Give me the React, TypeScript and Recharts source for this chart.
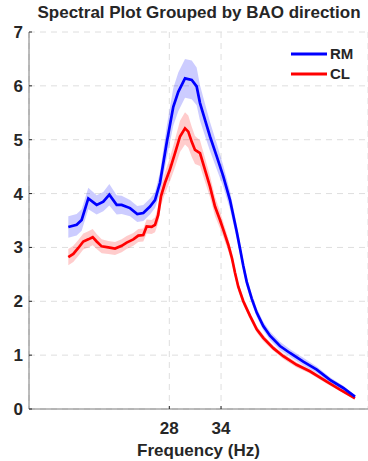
import React from 'react';
import { ComposedChart, Line, Area, XAxis, YAxis, CartesianGrid } from 'recharts';

const rmFreq = [16.28, 17.25, 17.83, 18.6, 19.57, 20.34, 21.04, 21.89, 22.47, 23.44, 24.28, 24.98, 25.76, 26.34, 26.92, 27.7, 28.46, 29.04, 29.82, 30.6, 31.17, 31.56, 32.14, 32.72, 33.5, 34.26, 35.04, 35.81, 36.2, 36.58, 36.98, 37.56, 38.14, 38.9, 39.68, 40.84, 42.0, 43.54, 45.1, 46.64, 48.18, 49.54];
const rmMean = [3.38, 3.42, 3.51, 3.91, 3.79, 3.85, 3.98, 3.79, 3.79, 3.73, 3.62, 3.64, 3.76, 3.88, 4.2, 4.95, 5.61, 5.89, 6.14, 6.11, 5.99, 5.68, 5.37, 5.06, 4.69, 4.32, 3.88, 3.3, 2.98, 2.66, 2.36, 2.05, 1.79, 1.54, 1.36, 1.17, 1.04, 0.88, 0.73, 0.54, 0.39, 0.23];
const rmErr = [0.2, 0.2, 0.2, 0.2, 0.18, 0.18, 0.2, 0.18, 0.17, 0.15, 0.15, 0.15, 0.15, 0.15, 0.2, 0.3, 0.35, 0.36, 0.36, 0.36, 0.35, 0.33, 0.3, 0.27, 0.24, 0.2, 0.17, 0.13, 0.12, 0.1, 0.09, 0.08, 0.08, 0.08, 0.08, 0.08, 0.07, 0.07, 0.06, 0.05, 0.04, 0.02];

const clFreq = [16.28, 16.86, 17.44, 18.02, 18.6, 19.11, 19.57, 20.15, 20.92, 21.7, 22.47, 23.05, 23.82, 24.4, 24.98, 25.37, 25.95, 26.34, 26.7, 27.03, 27.5, 28.08, 28.66, 29.24, 29.82, 30.2, 30.6, 30.98, 31.56, 32.14, 32.72, 33.3, 33.88, 34.26, 34.84, 35.27, 35.62, 36.0, 36.58, 37.36, 38.14, 38.9, 40.06, 41.22, 42.77, 44.31, 46.26, 47.8, 49.54];
const clMean = [2.82, 2.88, 2.99, 3.11, 3.15, 3.19, 3.11, 3.02, 3.0, 2.98, 3.03, 3.09, 3.15, 3.22, 3.23, 3.39, 3.38, 3.42, 3.6, 3.95, 4.2, 4.45, 4.75, 5.06, 5.21, 5.15, 4.96, 4.81, 4.75, 4.44, 4.13, 3.76, 3.51, 3.33, 3.05, 2.8, 2.53, 2.27, 2.0, 1.73, 1.48, 1.32, 1.13, 0.98, 0.82, 0.7, 0.51, 0.36, 0.2];
const clErr = [0.15, 0.15, 0.15, 0.15, 0.15, 0.15, 0.14, 0.13, 0.12, 0.12, 0.12, 0.12, 0.12, 0.12, 0.12, 0.13, 0.13, 0.14, 0.15, 0.17, 0.2, 0.22, 0.26, 0.29, 0.3, 0.3, 0.28, 0.26, 0.24, 0.22, 0.2, 0.18, 0.16, 0.14, 0.12, 0.1, 0.09, 0.08, 0.07, 0.06, 0.06, 0.06, 0.05, 0.05, 0.05, 0.04, 0.04, 0.03, 0.02];

const yTicks = [0, 1, 2, 3, 4, 5, 6, 7];
const xTicks = [28, 34];
const xDomain = [11.72, 51.05];
const seriesNames = ['RM', 'CL'];
const titleText = 'Spectral Plot Grouped by BAO direction';
const xLabelText = 'Frequency (Hz)';

const rmRows = rmFreq.map((f, i) => ({ f, mean: rmMean[i], band: [rmMean[i] - rmErr[i], rmMean[i] + rmErr[i]] }));
const clRows = clFreq.map((f, i) => ({ f, mean: clMean[i], band: [clMean[i] - clErr[i], clMean[i] + clErr[i]] }));

const FONT = '"Liberation Sans", Arial, Helvetica, sans-serif';
const TXT = '#262626';

const YTick = (props: any) => {
  const { x, y, payload } = props;
  return (
    <g>
      <line x1={x + 6} y1={y} x2={x + 9} y2={y} stroke="#262626" strokeWidth={1} />
      <text x={x} y={y} dy="0.355em" textAnchor="end" fill={TXT} fontSize={17} fontWeight="bold" fontFamily={FONT}>
        {payload.value}
      </text>
    </g>
  );
};

const XTick = (props: any) => {
  const { x, y, payload } = props;
  return (
    <g>
      <line x1={x} y1={y - 13} x2={x} y2={y - 16} stroke="#262626" strokeWidth={1} />
      <text x={x} y={y} dy="0.71em" textAnchor="middle" fill={TXT} fontSize={17} fontWeight="bold" fontFamily={FONT}>
        {payload.value}
      </text>
    </g>
  );
};

const LegendBox = () => (
  <div style={{ position: 'absolute', left: 290, top: 43, fontFamily: FONT, fontWeight: 'bold', fontSize: 15, color: TXT, lineHeight: '19px' }}>
    {[{ n: seriesNames[0], c: '#0000ff' }, { n: seriesNames[1], c: '#ff0000' }].map((s) => (
      <div key={s.n} style={{ display: 'flex', alignItems: 'center', height: 20 }}>
        <svg width={38} height={19} style={{ display: 'block' }}>
          <line x1={1} y1={10} x2={37} y2={10} stroke={s.c} strokeWidth={3} />
        </svg>
        <span style={{ marginLeft: 2 }}>{s.n}</span>
      </div>
    ))}
  </div>
);

export default function App() {
  return (
    <div style={{ position: 'absolute', left: 0, top: 0, width: 368, height: 461, background: '#fff', fontFamily: FONT }}>
      <div
        style={{
          position: 'absolute',
          left: 0,
          top: 3,
          width: 398,
          textAlign: 'center',
          fontWeight: 'bold',
          fontSize: 17,
          color: TXT,
          whiteSpace: 'nowrap',
        }}
      >
        {titleText}
      </div>
      <ComposedChart width={368} height={461} margin={{ top: 32, right: 0, bottom: 0, left: 0 }}>
        <CartesianGrid stroke="#dedede" strokeDasharray="6 5" />
        <XAxis
          dataKey="f"
          type="number"
          domain={xDomain}
          ticks={xTicks}
          allowDataOverflow
          height={52}
          stroke="#7a7a7a"
          tickLine={false}
          tickSize={6}
          tickMargin={7}
          tick={<XTick />}
          label={{ value: xLabelText, position: 'insideBottom', offset: 5, style: { fill: TXT, fontSize: 17, fontWeight: 'bold', fontFamily: FONT } }}
        />
        <YAxis
          type="number"
          domain={[0, 7]}
          ticks={yTicks}
          width={29}
          stroke="#7a7a7a"
          tickLine={false}
          tickSize={6}
          tickMargin={0}
          tick={<YTick />}
        />
        <Area data={clRows} dataKey="band" type="linear" stroke="none" fill="#ff0000" fillOpacity={0.2} isAnimationActive={false} />
        <Area data={rmRows} dataKey="band" type="linear" stroke="none" fill="#0000ff" fillOpacity={0.2} isAnimationActive={false} />
        <Line data={clRows} dataKey="mean" type="linear" stroke="#ff0000" strokeWidth={2.7} dot={false} isAnimationActive={false} />
        <Line data={rmRows} dataKey="mean" type="linear" stroke="#0000ff" strokeWidth={2.7} dot={false} isAnimationActive={false} />
      </ComposedChart>
      <LegendBox />
    </div>
  );
}
